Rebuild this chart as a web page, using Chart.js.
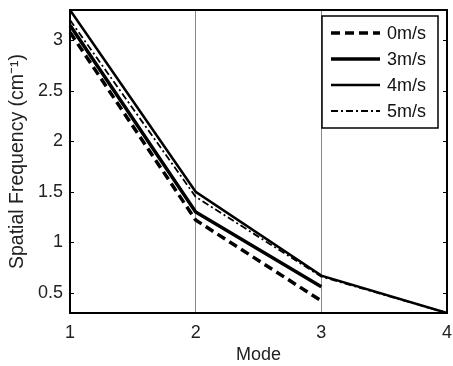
<!DOCTYPE html>
<html>
<head>
<meta charset="utf-8">
<script src="https://cdn.jsdelivr.net/npm/chart.js@4"></script>
<style>
  html, body { margin: 0; padding: 0; background: #fff; }
  canvas { display: block; }
</style>
</head>
<body>
<canvas id="modeChart" width="453" height="366"></canvas>
<script>
// data
const modes = ['1', '2', '3', '4'];
const yTicks = [0.5, 1, 1.5, 2, 2.5, 3];
const speed0 = [3.08, 1.22, 0.42, null];
const speed3 = [3.15, 1.30, 0.56, null];
const speed4 = [3.30, 1.50, 0.67, 0.30];
const speed5 = [3.20, 1.45, 0.66, 0.30];

const FONT = { family: '"Liberation Sans", Arial, sans-serif', size: 18 };
const TITLE_FONT = { family: '"Liberation Sans", Arial, sans-serif', size: 19.5 };

// frame around the plot area + inside tick marks
const framePlugin = {
    id: 'frame',
    afterDatasetsDraw(chart) {
        const { ctx, chartArea: a, scales } = chart;
        ctx.save();
        ctx.strokeStyle = '#000';
        ctx.lineWidth = 1;
        yTicks.forEach((v) => {
            const y = Math.round(scales.y.getPixelForValue(v)) + 0.5;
            ctx.beginPath();
            ctx.moveTo(a.left, y); ctx.lineTo(a.left + 4, y);
            ctx.moveTo(a.right, y); ctx.lineTo(a.right - 4, y);
            ctx.stroke();
        });
        ctx.lineWidth = 2;
        ctx.strokeRect(a.left, a.top, a.right - a.left, a.bottom - a.top);
        ctx.restore();
    }
};

// legend box drawn inside the plot, top right
const boxLegendPlugin = {
    id: 'boxLegend',
    afterDraw(chart) {
        const { ctx, chartArea: a } = chart;
        const w = 116, h = 112;
        const x0 = a.right - 9 - w, y0 = a.top + 6;
        ctx.save();
        ctx.fillStyle = '#fff';
        ctx.fillRect(x0, y0, w, h);
        ctx.strokeStyle = '#000';
        ctx.lineWidth = 1.5;
        ctx.strokeRect(x0, y0, w, h);
        chart.data.datasets.forEach((ds, i) => {
            const y = y0 + 17 + i * 26;
            ctx.beginPath();
            ctx.setLineDash(ds.borderDash || []);
            ctx.lineWidth = ds.borderWidth;
            ctx.strokeStyle = ds.borderColor;
            ctx.moveTo(x0 + 9, y);
            ctx.lineTo(x0 + 58, y);
            ctx.stroke();
            ctx.setLineDash([]);
            ctx.fillStyle = '#111';
            ctx.font = `${FONT.size}px ${FONT.family}`;
            ctx.textBaseline = 'middle';
            ctx.fillText(ds.label, x0 + 65, y + 1);
        });
        ctx.restore();
    }
};

const modeChartData = {
    labels: modes,
    datasets: [
        {
            label: '0m/s',
            data: speed0,
            borderColor: '#000',
            borderWidth: 3.5,
            borderDash: [9, 5],
        },
        {
            label: '3m/s',
            data: speed3,
            borderColor: '#000',
            borderWidth: 3.5,
        },
        {
            label: '4m/s',
            data: speed4,
            borderColor: '#000',
            borderWidth: 2.5,
        },
        {
            label: '5m/s',
            data: speed5,
            borderColor: '#000',
            borderWidth: 1.8,
            borderDash: [7, 3, 2, 3],
        }
    ]
};

const modeChartConfig = {
    type: 'line',
    data: modeChartData,
    options: {
        responsive: false,
        animation: false,
        spanGaps: false,
        elements: {
            point: { radius: 0 },
            line: { tension: 0, borderCapStyle: 'butt' }
        },
        layout: { padding: { top: 10, right: 6, left: 0, bottom: 0 } },
        plugins: {
            legend: { display: false },
            tooltip: { enabled: false },
            title: { display: false }
        },
        scales: {
            x: {
                type: 'category',
                offset: false,
                grid: {
                    drawTicks: false,
                    color: (c) => (c.index === 1 || c.index === 2) ? '#888' : 'rgba(0,0,0,0)',
                    lineWidth: 1,
                },
                border: { display: false },
                ticks: { color: '#222', font: FONT, padding: 9, maxRotation: 0 },
                title: { display: true, text: 'Mode', color: '#222', font: FONT, padding: { top: 0, bottom: 0 } },
                afterFit: (scale) => {
                    scale.height = 53;
                    scale.paddingLeft = 0;
                    scale.paddingRight = 0;
                }
            },
            y: {
                min: 0.3,
                max: 3.3,
                afterBuildTicks: (scale) => { scale.ticks = yTicks.map((v) => ({ value: v })); },
                grid: { display: false, drawTicks: false },
                border: { display: false },
                ticks: { color: '#222', font: FONT, padding: 7, callback: (v) => String(v) },
                title: { display: true, text: 'Spatial Frequency (cm⁻¹)', color: '#222', font: TITLE_FONT, padding: { top: 6, bottom: 0 } },
                afterFit: (scale) => {
                    scale.width = 70;
                    scale.paddingTop = 0;
                    scale.paddingBottom = 0;
                }
            }
        }
    },
    plugins: [framePlugin, boxLegendPlugin]
};

new Chart(document.getElementById('modeChart').getContext('2d'), modeChartConfig);
</script>
</body>
</html>
